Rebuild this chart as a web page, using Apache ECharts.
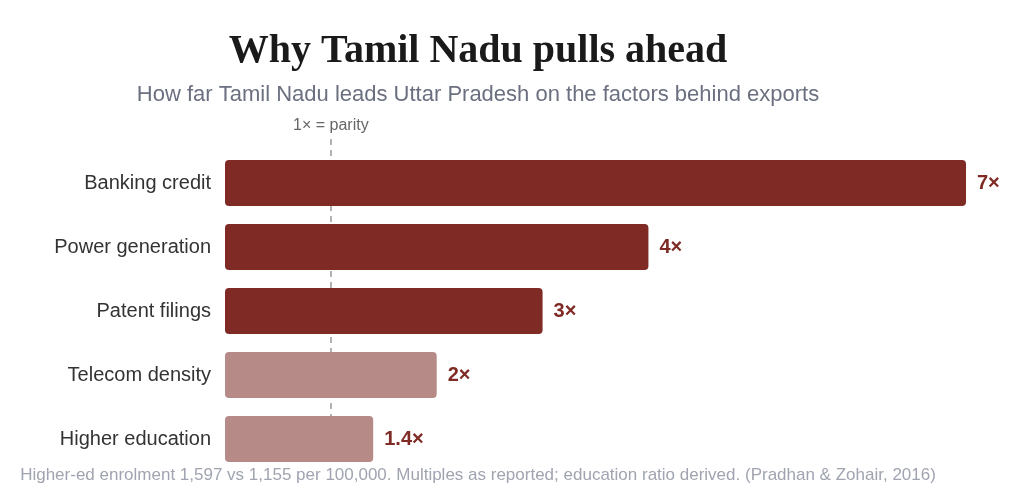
<!DOCTYPE html>
<html>
<head>
<meta charset="utf-8">
<script src="https://cdn.jsdelivr.net/npm/echarts@6/dist/echarts.min.js"></script>
<style>
  html, body { margin: 0; padding: 0; background: #fff; }
  #chart { width: 1024px; height: 499px; }
</style>
</head>
<body>
<div id="chart"></div>
<script>
// categories, top to bottom
const factors = ['Banking credit', 'Power generation', 'Patent filings', 'Telecom density', 'Higher education']
// how many times TN leads UP
const multiples = [7, 4, 3, 2, 1.4]
const valueLabels = ['7×', '4×', '3×', '2×', '1.4×']
// strong factors get the dark colour
const strong = [true, true, true, false, false]

const dark = '#7f2a24'
const light = '#b58a87'

let myChart = echarts.init(document.getElementById('chart'))

const barData = multiples.map((v, i) => ({
  value: v,
  itemStyle: { color: strong[i] ? dark : light }
}))

const option = {
  animation: false,
  title: [
    {
      text: 'Why Tamil Nadu pulls ahead',
      left: 473,
      top: 27,
      textAlign: 'center',
      textStyle: {
        fontFamily: 'Liberation Serif',
        fontWeight: 'bold',
        fontSize: 40,
        color: '#1a1a1a'
      }
    },
    {
      text: 'How far Tamil Nadu leads Uttar Pradesh on the factors behind exports',
      left: 473,
      top: 79,
      textAlign: 'center',
      textStyle: {
        fontFamily: 'Liberation Sans',
        fontWeight: 'normal',
        fontSize: 22,
        color: '#6b7080'
      }
    },
    {
      text: 'Higher-ed enrolment 1,597 vs 1,155 per 100,000. Multiples as reported; education ratio derived. (Pradhan & Zohair, 2016)',
      left: 473,
      top: 462,
      textAlign: 'center',
      textStyle: {
        fontFamily: 'Liberation Sans',
        fontWeight: 'normal',
        fontSize: 17,
        color: '#a0a4b0'
      }
    }
  ],
  grid: {
    left: 225,
    right: 58,
    top: 151,
    bottom: 28
  },
  xAxis: {
    type: 'value',
    min: 0,
    max: 7,
    show: false
  },
  yAxis: {
    type: 'category',
    inverse: true,
    data: factors,
    axisLine: { show: false },
    axisTick: { show: false },
    axisLabel: {
      margin: 14,
      fontFamily: 'Liberation Sans',
      fontSize: 20,
      color: '#333'
    }
  },
  series: [
    {
      // parity reference line, drawn behind bars
      type: 'bar',
      data: [],
      z: 1,
      markLine: {
        silent: true,
        z: 1,
        symbol: ['none', 'none'],
        lineStyle: { color: '#999', type: [6, 5], width: 1.5 },
        label: {
          show: true,
          position: 'start',
          formatter: '1× = parity',
          fontFamily: 'Liberation Sans',
          fontSize: 16,
          color: '#666',
          distance: 5
        },
        data: [[{ xAxis: 1, y: 139 }, { xAxis: 1, y: 458 }]]
      }
    },
    {
      type: 'bar',
      z: 3,
      barWidth: 46,
      barGap: '-100%',
      itemStyle: { borderRadius: 4 },
      label: {
        show: true,
        position: 'right',
        distance: 11,
        formatter: p => valueLabels[p.dataIndex],
        fontFamily: 'Liberation Sans',
        fontWeight: 'bold',
        fontSize: 20,
        color: dark
      },
      data: barData
    }
  ]
}
myChart.setOption(option)
</script>
</body>
</html>
